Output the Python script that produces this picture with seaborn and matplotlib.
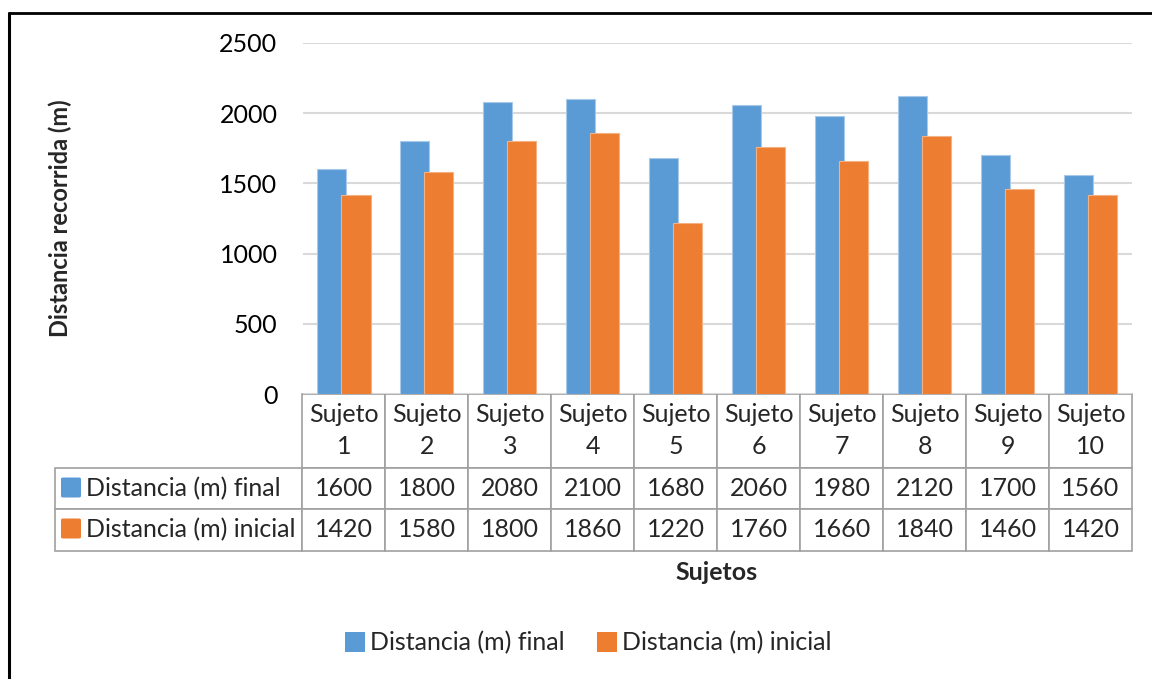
import pandas as pd
import matplotlib
matplotlib.use("Agg")
import matplotlib.pyplot as plt
import seaborn as sns
from matplotlib.patches import Patch, FancyBboxPatch
from matplotlib.lines import Line2D

# datos de la tabla
sujetos = ["Sujeto 1", "Sujeto 2", "Sujeto 3", "Sujeto 4", "Sujeto 5",
           "Sujeto 6", "Sujeto 7", "Sujeto 8", "Sujeto 9", "Sujeto 10"]
dist_final = [1600, 1800, 2080, 2100, 1680, 2060, 1980, 2120, 1700, 1560]
dist_inicial = [1420, 1580, 1800, 1860, 1220, 1760, 1660, 1840, 1460, 1420]
series = ["Distancia (m) final", "Distancia (m) inicial"]
colores = ["#5B9BD5", "#ED7D31"]
bordes = ["#A9C9EA", "#F4B183"]

df = pd.DataFrame({
    "sujeto": sujetos * 2,
    "distancia": dist_final + dist_inicial,
    "serie": [series[0]] * len(sujetos) + [series[1]] * len(sujetos),
})

sns.set_theme(style="white")
plt.rcParams["font.family"] = ["Lato", "DejaVu Sans"]

W, H = 1152, 679
fig = plt.figure(figsize=(W / 100, H / 100), dpi=100)

def fx(px):
    return px / W

def fy(py):
    return 1 - py / H

ax_l, ax_r, ax_t, ax_b = 302.5, 1132, 43, 394
ax = fig.add_axes([fx(ax_l), fy(ax_b), fx(ax_r - ax_l), (ax_b - ax_t) / H])

sns.barplot(data=df, x="sujeto", y="distancia", hue="serie", order=sujetos,
            hue_order=series, palette=colores, width=0.58, dodge=True,
            saturation=1, errorbar=None, legend=False, ax=ax)

# barras algo mas anchas y solapadas, como en Excel
for i, p in enumerate(ax.patches):
    c = p.get_x() + p.get_width() / 2
    p.set_width(0.35)
    p.set_x(c - 0.175)
    p.set_edgecolor(bordes[i // len(sujetos)])
    p.set_linewidth(0.8)

ax.set_ylim(0, 2500)
ax.set_yticks([0, 500, 1000, 1500, 2000, 2500])
ax.tick_params(axis="y", length=0, pad=18, labelsize=18, labelcolor="black")
ax.tick_params(axis="x", length=0, labelbottom=False)
ax.set_xlabel("")
ax.set_ylabel("")
ax.yaxis.grid(True, color="#D9D9D9", linewidth=1.5)
ax.set_axisbelow(True)
for s in ax.spines.values():
    s.set_visible(False)

fig.text(fx(60), fy(218), "Distancia recorrida (m)", rotation=90, fontsize=17,
         fontweight="bold", ha="center", va="center")

# tabla de datos
col_labels = [s.replace(" ", "\n") for s in sujetos]
cell_text = [[str(v) for v in dist_final], [str(v) for v in dist_inicial]]
ah = ax_b - ax_t
aw = ax_r - ax_l
hdr_h, row_h = 73.5 / ah, 41.5 / ah
lbl_w = (ax_l - 55) / aw
tbl = ax.table(cellText=cell_text, colLabels=col_labels, cellLoc="center",
               colWidths=[0.1] * len(sujetos),
               bbox=[0, -(hdr_h + 2 * row_h), 1, hdr_h + 2 * row_h])
for r, lbl in enumerate(series, start=1):
    cell = tbl.add_cell(r, -1, width=lbl_w, height=row_h, text=lbl, loc="left")
    cell.PAD = 0.125
tbl.auto_set_font_size(False)
tbl.set_fontsize(18)
for (r, c), cell in tbl.get_celld().items():
    cell.set_edgecolor("#A0A0A0")
    cell.set_linewidth(1.2)
    cell.set_height(hdr_h if r == 0 else row_h)
    if r == 0:
        cell.get_text().set_linespacing(1.5)

# cuadritos de leyenda en la tabla
for i, yc in enumerate([487.5, 528.5]):
    fig.patches.append(FancyBboxPatch((fx(61), fy(yc + 10)), fx(20), 20 / H,
                                      boxstyle="round,pad=0,rounding_size=0.002",
                                      facecolor=colores[i], edgecolor="none",
                                      transform=fig.transFigure))

fig.text(fx(717), fy(572), "Sujetos", fontsize=18, fontweight="bold",
         ha="center", va="center")

handles = [Patch(facecolor=colores[i], edgecolor="none") for i in range(2)]
fig.legend(handles, series, loc="center", bbox_to_anchor=(fx(588), fy(643)),
           ncol=2, frameon=False, fontsize=18, handlelength=0.8,
           handleheight=0.8, handletextpad=0.2, columnspacing=1.3)

# marco del grafico
fig.add_artist(Line2D([fx(9), fx(9)], [0, fy(12.5)], color="black", lw=2.2,
                      transform=fig.transFigure))
fig.add_artist(Line2D([fx(9), 1], [fy(12.5), fy(12.5)], color="black", lw=2,
                      transform=fig.transFigure))

fig.savefig("out.png", dpi=100, facecolor="white")
